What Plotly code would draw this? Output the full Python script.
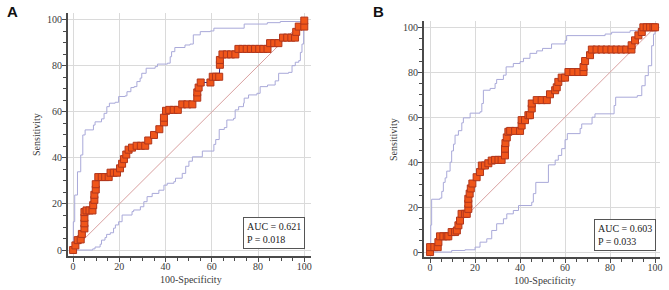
import plotly.graph_objects as go

# ---------------- DATA ----------------
# Panel A: ROC curve points (100-Specificity, Sensitivity)
a_roc_x = [0, 1.0, 2.0, 3.3, 3.8, 4.9, 4.9, 4.9, 4.9, 5.8, 7.1, 8.4, 8.7, 9.2, 9.2, 9.8, 9.8,
           10.9, 12.4, 13.9, 15.4, 16.2, 17.6, 19.0, 20.3, 21.2, 22.0, 23.0, 24.0, 25.5, 27.5,
           29.3, 31.2, 32.5, 35.0, 37.3, 39.3, 39.3, 40.2, 41.6, 43.5, 45.3, 47.2, 49.4, 51.6,
           53.7, 53.7, 54.3, 55.2, 59.4, 60.4, 61.8, 63.2, 63.5, 63.5, 64.6, 66.5, 68.3, 70.2,
           71.5, 73.3, 75.1, 76.9, 78.7, 80.5, 82.3, 84.1, 85.2, 87.0, 88.8, 90.8, 92.6, 94.4,
           96.0, 96.5, 97.6, 100, 100]
a_roc_y = [0, 2.0, 4.3, 4.6, 7.0, 9.4, 11.6, 14.0, 16.5, 17.2, 17.2, 17.2, 19.5, 21.8, 24.0, 26.3, 28.6,
           31.7, 31.7, 31.7, 31.7, 33.6, 33.6, 33.6, 35.5, 37.5, 39.5, 41.5, 43.6, 44.5, 45.3,
           45.3, 45.3, 47.6, 50.0, 52.5, 55.5, 57.5, 60.5, 60.9, 60.9, 60.9, 63.3, 63.3, 63.3,
           66.2, 68.5, 70.6, 72.8, 72.8, 75.3, 75.3, 75.3, 80.5, 82.6, 85.0, 85.0, 85.0, 85.0,
           87.4, 87.4, 87.4, 87.4, 87.4, 87.4, 87.4, 87.4, 89.9, 89.9, 89.9, 92.3, 92.3, 92.3,
           92.3, 94.8, 97.1, 97.1, 99.7]
# Panel A: upper 95% CI (step)
a_up_x = [0, 0.1, 0.7, 1.9, 3.3, 4.2, 5.2, 8.8, 9.5, 12.3, 13.4, 14.6, 15.7, 18.2, 19.7, 22.5, 23.3,
          25.0, 26.4, 27.6, 29.0, 29.7, 31.6, 35.5, 36.5, 40.8, 42.0, 42.6, 44.0, 48.4, 50.6, 52.0,
          55.0, 59.4, 60.9, 74.0, 84.0, 89.6, 100]
a_up_y = [0, 12.3, 23.9, 34.0, 41.3, 50.0, 52.2, 54.3, 55.7, 57.0, 59.4, 62.3, 63.8, 64.2, 66.7, 67.0, 68.8,
          70.6, 71.0, 73.2, 74.7, 76.8, 79.0, 79.7, 80.8, 81.2, 84.0, 86.2, 88.0, 89.1, 89.5, 93.5,
          94.9, 95.2, 96.4, 98.2, 98.8, 99.3, 100]
# Panel A: lower 95% CI (step)
a_lo_x = [0, 8.5, 9.5, 11.7, 12.3, 13.8, 14.5, 16.1, 17.5, 18.3, 19.7, 21.2, 25.5, 26.2, 29.1, 30.6,
          32.0, 34.2, 37.1, 39.3, 40.7, 43.6, 44.3, 47.2, 48.7, 50.1, 51.6, 55.9, 60.9, 61.7, 63.2,
          65.4, 66.5, 69.4, 70.1, 71.6, 73.7, 74.0, 75.9, 79.5, 80.9, 84.1, 87.4, 88.9, 93.2, 94.7,
          96.1, 97.6, 98.3, 99.0, 99.7]
a_lo_y = [0, 0.5, 1.3, 2.5, 4.3, 5.4, 6.8, 7.5, 9.5, 10.9, 12.3, 15.2, 16.7, 17.4, 18.8, 21.0,
          23.2, 24.6, 26.0, 28.2, 29.0, 29.7, 31.2, 33.3, 36.4, 38.6, 40.5, 43.0, 45.9, 48.0, 52.4,
          53.2, 56.5, 57.2, 60.9, 62.3, 63.8, 66.0, 67.4, 68.1, 71.0, 71.7, 73.5, 76.8, 77.2, 80.1,
          81.6, 82.3, 85.9, 89.5, 100]

# Panel B: ROC curve points
b_roc_x = [0, 0, 1.9, 3.4, 3.7, 4.4, 5.9, 7.4, 8.1, 9.6, 11.1, 11.9, 12.6, 13.3, 14.0, 15.5, 16.3,
           17.0, 17.0, 17.0, 17.6, 18.1, 18.8, 20.7, 22.2, 23.0, 24.4, 25.9, 27.4, 28.9, 30.4,
           31.8, 33.3, 33.3, 33.5, 34.1, 34.8, 35.6, 37.8, 40.0, 40.7, 40.7, 42.2, 43.7, 44.4,
           45.2, 45.2, 47.4, 49.6, 51.9, 53.3, 55.6, 56.3, 57.0, 58.5, 60.0, 61.5, 63.7, 65.9,
           68.2, 68.2, 68.9, 71.1, 71.9, 74.0, 76.2, 78.4, 80.6, 82.8, 85.0, 87.2, 89.5, 89.6,
           91.1, 92.6, 94.1, 94.8, 96.3, 97.8, 99.3, 100]
b_roc_y = [0, 2.2, 2.2, 2.2, 4.4, 7.0, 7.0, 7.0, 7.0, 8.9, 8.9, 9.6, 11.9, 14.0, 17.0, 17.0, 17.0,
           19.2, 21.5, 23.7, 26.0, 28.3, 30.5, 33.3, 35.6, 38.5, 38.5, 39.5, 40.7, 41.0, 41.0,
           41.0, 43.0, 46.0, 48.5, 51.0, 53.5, 53.9, 53.9, 53.9, 56.3, 58.7, 58.7, 60.9, 60.9,
           63.9, 66.1, 67.6, 67.6, 67.6, 70.2, 72.0, 73.3, 75.7, 77.6, 77.6, 80.1, 80.1, 80.1,
           80.1, 82.3, 85.0, 87.6, 90.1, 90.1, 90.1, 90.1, 90.1, 90.1, 90.1, 90.1, 90.1, 92.0,
           94.2, 96.4, 97.9, 100, 100, 100, 100, 100]
# Panel B: upper 95% CI (step)
b_up_x = [0, 0.3, 0.7, 4.4, 5.2, 5.9, 6.7, 7.4, 8.9, 9.6, 10.4, 11.1, 12.6, 14.1, 14.8, 17.8, 22.2,
          23.0, 23.7, 26.7, 28.9, 29.6, 32.6, 33.8, 37.0, 40.0, 41.5, 44.4, 47.4, 50.0, 54.0, 60.0,
          60.7, 77.8, 80.7, 88.9, 97.0, 100]
b_up_y = [0, 12.0, 23.5, 24.0, 27.0, 31.0, 33.0, 36.0, 40.0, 45.0, 48.0, 52.0, 54.0, 57.5, 59.7, 61.8, 62.4,
          66.1, 72.0, 72.8, 75.0, 76.8, 78.7, 82.4, 83.9, 84.7, 86.2, 88.4, 89.5, 90.6, 92.6, 94.1,
          96.3, 97.0, 97.8, 98.5, 99.5, 100]
# Panel B: lower 95% CI (step)
b_lo_x = [0, 9.6, 15.5, 20.0, 22.2, 25.2, 27.4, 29.6, 32.6, 34.1, 37.0, 39.3, 45.2, 45.9, 47.0,
          52.6, 55.6, 57.0, 58.5, 60.0, 61.0, 66.7, 67.4, 72.0, 73.3, 81.8, 82.5, 92.1, 94.1, 95.6,
          97.0, 98.5, 99.3, 100]
b_lo_y = [0, 0.7, 1.0, 2.2, 4.4, 5.9, 9.6, 12.6, 14.8, 17.0, 18.5, 20.7, 22.2, 26.0, 31.0,
          38.8, 40.9, 43.0, 46.0, 50.0, 52.7, 55.0, 57.0, 60.0, 61.5, 65.2, 68.9, 69.6, 74.0, 78.5,
          82.9, 91.8, 97.0, 100]

diag_x = [0, 100]
diag_y = [0, 100]

tick_vals = [0, 20, 40, 60, 80, 100]
tick_text = ["0", "20", "40", "60", "80", "100"]
panel_labels = ["A", "B"]
stats_text = ["AUC = 0.621<br>P = 0.018", "AUC = 0.603<br>P = 0.033"]
x_title = "100-Specificity"
y_title = "Sensitivity"

# ---------------- STYLE ----------------
SERIF = "Liberation Serif"
ci_color = "#A9A9D9"
diag_color = "#D9A0A0"
roc_line = "#2E2E9A"
marker_fill = "#F0561A"
marker_edge = "#B0361C"
grid_color = "#DADADA"
axis_color = "#4A4A4A"
text_color = "#3A3A3A"

W, H = 669, 290
# plot-area boxes in pixels: (left, right, top, bottom)
boxes = [(68, 311, 13, 256), (424, 660, 21, 257)]
ranges_x = [[-2.2, 102.9], [-2.7, 102.2]]
ranges_y = [[-2.6, 103.0], [-2.2, 102.8]]

fig = go.Figure()

panels = [
    (a_roc_x, a_roc_y, a_up_x, a_up_y, a_lo_x, a_lo_y),
    (b_roc_x, b_roc_y, b_up_x, b_up_y, b_lo_x, b_lo_y),
]

for i, (rx, ry, ux, uy, lx, ly) in enumerate(panels):
    xa = "x" if i == 0 else "x2"
    ya = "y" if i == 0 else "y2"
    fig.add_trace(go.Scatter(x=diag_x, y=diag_y, mode="lines", xaxis=xa, yaxis=ya,
                             line=dict(color=diag_color, width=1), showlegend=False, hoverinfo="skip"))
    fig.add_trace(go.Scatter(x=ux, y=uy, mode="lines", xaxis=xa, yaxis=ya, line_shape="hv",
                             line=dict(color=ci_color, width=1), showlegend=False))
    fig.add_trace(go.Scatter(x=lx, y=ly, mode="lines", xaxis=xa, yaxis=ya, line_shape="hv",
                             line=dict(color=ci_color, width=1), showlegend=False))
    fig.add_trace(go.Scatter(x=rx, y=ry, mode="lines+markers", xaxis=xa, yaxis=ya,
                             line=dict(color=roc_line, width=1),
                             marker=dict(symbol="square", size=7, color=marker_fill,
                                         line=dict(color=marker_edge, width=1)),
                             showlegend=False))

def axis_common(standoff):
    return dict(
        tickvals=tick_vals, ticktext=tick_text, showgrid=True, gridcolor=grid_color, gridwidth=1,
        zeroline=False, showline=True, linecolor=axis_color, linewidth=2,
        ticks="outside", ticklen=4, tickwidth=1, tickcolor=axis_color,
        ticklabelstandoff=standoff,
        tickfont=dict(family=SERIF, size=10, color=text_color),
        minor=dict(dtick=5, ticks="outside", ticklen=3, tickwidth=1, tickcolor=axis_color, showgrid=False),
        fixedrange=True, automargin=False,
    )

for i, (l, r, t, b) in enumerate(boxes):
    xs = "xaxis" if i == 0 else "xaxis2"
    ys = "yaxis" if i == 0 else "yaxis2"
    xd = dict(axis_common(-4), domain=[l / W, r / W], range=ranges_x[i], anchor="y" if i == 0 else "y2")
    yd = dict(axis_common(-2), domain=[1 - b / H, 1 - t / H], range=ranges_y[i], anchor="x" if i == 0 else "x2")
    fig.layout[xs] = xd
    fig.layout[ys] = yd

annotations = []
# axis titles & panel labels
title_pos = [
    dict(xt=191, yt=279, xy=37, yy=135, lx=12, ly=12),
    dict(xt=545, yt=280, xy=393, yy=140, lx=378, ly=12),
]
for i, p in enumerate(title_pos):
    annotations.append(dict(text=x_title, x=p["xt"] / W, y=1 - p["yt"] / H, xref="paper", yref="paper",
                            showarrow=False, font=dict(family=SERIF, size=10, color=text_color),
                            xanchor="center", yanchor="middle"))
    annotations.append(dict(text=y_title, x=p["xy"] / W, y=1 - p["yy"] / H, xref="paper", yref="paper",
                            showarrow=False, textangle=-90, font=dict(family=SERIF, size=10, color=text_color),
                            xanchor="center", yanchor="middle"))
    annotations.append(dict(text="<b>" + panel_labels[i] + "</b>", x=p["lx"] / W, y=1 - p["ly"] / H,
                            xref="paper", yref="paper", showarrow=False,
                            font=dict(family="Liberation Sans", size=15, color="#111111"),
                            xanchor="center", yanchor="middle"))
# stats boxes
for i in range(2):
    annotations.append(dict(text=stats_text[i], x=100.3, y=0.6,
                            xref="x" if i == 0 else "x2", yref="y" if i == 0 else "y2",
                            xanchor="right", yanchor="bottom", align="left", showarrow=False,
                            font=dict(family=SERIF, size=10, color="#222222"),
                            bgcolor="white", bordercolor="#555555", borderwidth=1, borderpad=3))

fig.update_layout(
    width=W, height=H, margin=dict(l=0, r=0, t=0, b=0),
    paper_bgcolor="white", plot_bgcolor="white",
    annotations=annotations, showlegend=False,
)

fig.write_html("out.html")
